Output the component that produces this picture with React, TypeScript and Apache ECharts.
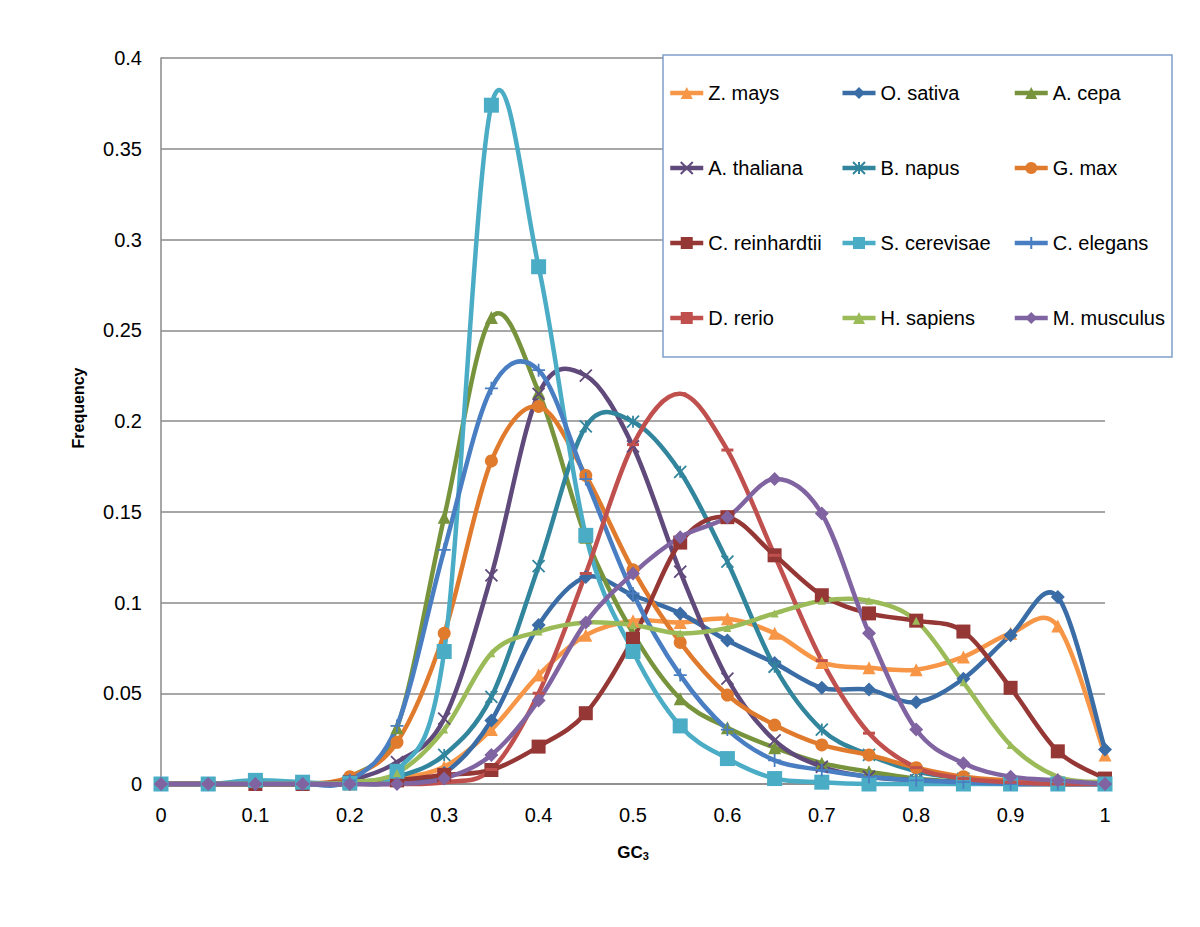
import React, { useEffect, useRef } from "react";
import * as echarts from "echarts";

const gc3 = [0, 0.05, 0.1, 0.15, 0.2, 0.25, 0.3, 0.35, 0.4, 0.45, 0.5, 0.55, 0.6, 0.65, 0.7, 0.75, 0.8, 0.85, 0.9, 0.95, 1];

const zMays = [0, 0, 0, 0, 0, 0.003, 0.0095, 0.03, 0.06, 0.082, 0.09, 0.089, 0.091, 0.083, 0.067, 0.064, 0.063, 0.07, 0.083, 0.087, 0.016];
const oSativa = [0, 0, 0, 0, 0, 0.002, 0.006, 0.035, 0.0876, 0.114, 0.104, 0.094, 0.079, 0.0666, 0.053, 0.052, 0.045, 0.058, 0.082, 0.103, 0.019];
const aCepa = [0, 0, 0, 0, 0.004, 0.031, 0.147, 0.257, 0.216, 0.136, 0.083, 0.047, 0.031, 0.02, 0.0115, 0.0068, 0.003, 0.001, 0, 0, 0];
const aThaliana = [0, 0, 0, 0, 0.002, 0.012, 0.036, 0.115, 0.215, 0.225, 0.186, 0.117, 0.058, 0.024, 0.0095, 0.004, 0.002, 0.001, 0, 0, 0];
const bNapus = [0, 0, 0, 0, 0.001, 0.004, 0.016, 0.048, 0.12, 0.197, 0.1996, 0.172, 0.1225, 0.0646, 0.03, 0.016, 0.007, 0.003, 0.001, 0, 0];
const gMax = [0, 0, 0, 0, 0.004, 0.023, 0.083, 0.178, 0.208, 0.17, 0.118, 0.078, 0.049, 0.0325, 0.0215, 0.016, 0.009, 0.004, 0.002, 0.001, 0];
const cReinhardtii = [0, 0, 0, 0, 0.001, 0.002, 0.005, 0.0077, 0.0206, 0.039, 0.08, 0.133, 0.147, 0.126, 0.104, 0.094, 0.09, 0.084, 0.053, 0.018, 0.003];
const sCerevisae = [0, 0, 0.002, 0.001, 0.0005, 0.007, 0.073, 0.374, 0.285, 0.137, 0.073, 0.032, 0.014, 0.003, 0.001, 0, 0, 0, 0, 0, 0];
const cElegans = [0, 0, 0, 0, 0.002, 0.032, 0.129, 0.218, 0.228, 0.168, 0.105, 0.06, 0.03, 0.013, 0.0077, 0.004, 0.002, 0.001, 0, 0, 0];
const dRerio = [0, 0, 0, 0, 0, 0, 0.001, 0.008, 0.05, 0.116, 0.187, 0.215, 0.184, 0.126, 0.068, 0.028, 0.009, 0.003, 0.001, 0, 0];
const hSapiens = [0, 0, 0, 0, 0.001, 0.006, 0.03, 0.072, 0.084, 0.089, 0.0876, 0.083, 0.086, 0.094, 0.101, 0.101, 0.09, 0.056, 0.0215, 0.004, 0.001];
const mMusculus = [0, 0, 0, 0, 0, 0, 0.003, 0.016, 0.046, 0.089, 0.116, 0.136, 0.147, 0.168, 0.149, 0.083, 0.03, 0.0115, 0.004, 0.002, 0];

const names = [
  "Z. mays", "O. sativa", "A. cepa",
  "A. thaliana", "B. napus", "G. max",
  "C. reinhardtii", "S. cerevisae", "C. elegans",
  "D. rerio", "H. sapiens", "M. musculus",
];
const values = [zMays, oSativa, aCepa, aThaliana, bNapus, gMax, cReinhardtii, sCerevisae, cElegans, dRerio, hSapiens, mMusculus];
const colors = [
  "#F79646", "#3A6CA6", "#77933C",
  "#604A7B", "#31859C", "#E07B2E",
  "#953735", "#4BACC6", "#4A7EC2",
  "#C0504D", "#9BBB59", "#8064A2",
];

const X_PATH = "path://M0,0L10,10M10,0L0,10";
const STAR_PATH = "path://M0,0L10,10M10,0L0,10M5,0L5,10";
const PLUS_PATH = "path://M0,5L10,5M5,0L5,10";

const symbols: any[] = [
  { symbol: "triangle", size: 13 },
  { symbol: "diamond", size: 14 },
  { symbol: "triangle", size: 13 },
  { symbol: X_PATH, size: 12, stroke: true },
  { symbol: STAR_PATH, size: 12, stroke: true },
  { symbol: "circle", size: 13 },
  { symbol: "rect", size: 14 },
  { symbol: "rect", size: 15 },
  { symbol: PLUS_PATH, size: 13, stroke: true },
  { symbol: "rect", size: [12, 3] },
  { symbol: "triangle", size: 8 },
  { symbol: "diamond", size: 14 },
];

const FONT = 'Arial, "Liberation Sans", sans-serif';
const LINE_W = 4.5;

// Excel-style smoothed line (Catmull-Rom -> cubic Bezier), points come from the axis scales.
function smoothPath(pts: number[][]): string {
  const n = pts.length;
  let d = `M${pts[0][0]},${pts[0][1]}`;
  for (let i = 0; i < n - 1; i++) {
    const p0 = pts[Math.max(i - 1, 0)];
    const p1 = pts[i];
    const p2 = pts[i + 1];
    const p3 = pts[Math.min(i + 2, n - 1)];
    const c1x = p1[0] + (p2[0] - p0[0]) / 6;
    const c1y = p1[1] + (p2[1] - p0[1]) / 6;
    const c2x = p2[0] - (p3[0] - p1[0]) / 6;
    const c2y = p2[1] - (p3[1] - p1[1]) / 6;
    d += `C${c1x},${c1y},${c2x},${c2y},${p2[0]},${p2[1]}`;
  }
  return d;
}

export default function App() {
  const ref = useRef<HTMLDivElement>(null);
  useEffect(() => {
    document.body.style.margin = "0";
    if (!ref.current) return;
    const chart = echarts.init(ref.current, null, { renderer: "svg" });

    const series: any[] = [];
    names.forEach((name, i) => {
      const s = symbols[i];
      const data = gc3.map((x, j) => [x, values[i][j]]);
      series.push({
        name: `__curve_${i}`,
        type: "custom",
        data,
        silent: true,
        clip: false,
        renderItem: (params: any, api: any) => {
          if (params.dataIndex !== 0) return null;
          const pts = data.map((p) => api.coord(p));
          return {
            type: "path",
            shape: { pathData: smoothPath(pts) },
            style: { fill: "none", stroke: colors[i], lineWidth: LINE_W, lineJoin: "round" },
          };
        },
      });
      series.push({
        name,
        type: "line",
        data,
        symbol: s.symbol,
        symbolSize: s.size,
        showAllSymbol: true,
        lineStyle: { width: LINE_W, color: colors[i], opacity: 0 },
        itemStyle: s.stroke
          ? { color: colors[i], borderColor: colors[i], borderWidth: 1.8 }
          : { color: colors[i], borderWidth: 0 },
        emphasis: { disabled: true },
      });
    });

    const rowTops = [83, 158, 233, 308];
    const legends = rowTops.map((top, r) => ({
      left: 668,
      top,
      padding: 0,
      orient: "horizontal",
      data: names.slice(r * 3, r * 3 + 3),
      itemWidth: 33,
      itemHeight: 15,
      itemGap: 5,
      selectedMode: false,
      lineStyle: { opacity: 1, width: LINE_W },
      textStyle: { fontFamily: FONT, fontSize: 20, color: "#000", width: 127, lineHeight: 20 },
      z: 10,
    }));

    chart.setOption({
      animation: false,
      backgroundColor: "#fff",
      grid: { left: 161, right: 95, top: 58, bottom: 143 },
      xAxis: {
        type: "value",
        min: 0,
        max: 1,
        interval: 0.1,
        axisLine: { show: true, lineStyle: { color: "#8a8a8a", width: 1.5 } },
        axisTick: { show: false },
        splitLine: { show: false },
        axisLabel: { fontFamily: FONT, fontSize: 20, color: "#000", margin: 21 },
      },
      yAxis: {
        type: "value",
        min: 0,
        max: 0.4,
        interval: 0.05,
        axisLine: { show: true, lineStyle: { color: "#8a8a8a", width: 1.5 } },
        axisTick: { show: false },
        splitLine: { show: true, lineStyle: { color: "#8a8a8a", width: 1.5 } },
        axisLabel: { fontFamily: FONT, fontSize: 20, color: "#000", margin: 19 },
      },
      legend: legends,
      graphic: [
        {
          type: "rect",
          z: 5,
          shape: { x: 663, y: 55, width: 509, height: 302 },
          style: { fill: "#fff", stroke: "#7F9FCB", lineWidth: 1.5 },
        },
        {
          type: "text",
          z: 5,
          x: 78,
          y: 408,
          rotation: Math.PI / 2,
          style: {
            text: "Frequency",
            font: `bold 16px ${FONT}`,
            fill: "#000",
            align: "center",
            verticalAlign: "middle",
          },
        },
        {
          type: "text",
          z: 5,
          x: 633,
          y: 852,
          style: {
            text: "{a|GC}{b|3}",
            align: "center",
            verticalAlign: "middle",
            rich: {
              a: { font: `bold 17px ${FONT}`, fill: "#000" },
              b: { font: `bold 11px ${FONT}`, fill: "#000", padding: [8, 0, 0, 0] },
            },
          },
        },
      ],
      series,
    });
    return () => chart.dispose();
  }, []);
  return <div ref={ref} style={{ width: 1200, height: 927 }} />;
}
